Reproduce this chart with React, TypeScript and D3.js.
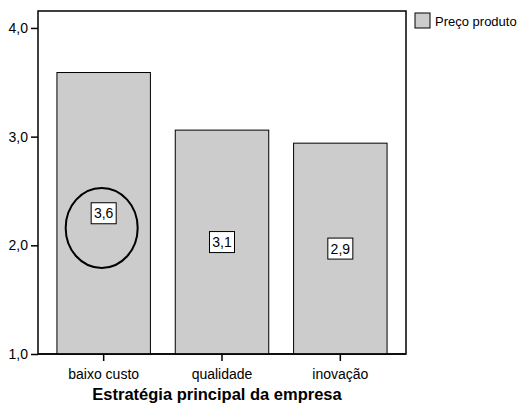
import { useEffect, useRef } from 'react';
import * as d3 from 'd3';

const categories = ['baixo custo', 'qualidade', 'inovação'];
const precoProduto = [3.59, 3.06, 2.94];
const valueLabels = ['3,6', '3,1', '2,9'];
const yTicks = [1, 2, 3, 4];
const seriesName = 'Preço produto';
const xTitle = 'Estratégia principal da empresa';

export default function App() {
	const svgRef = useRef<SVGSVGElement | null>(null);
	const width = 524;
	const height = 405;

	useEffect(() => {
		if (!svgRef.current) return;
		const margin = { top: 11, right: 118, bottom: 51, left: 38 };
		const svg = d3.select(svgRef.current);
		svg.selectAll('*').remove();

		const font = '"Liberation Sans", Arial, sans-serif';

		const x = d3
			.scaleBand<string>()
			.domain(categories)
			.range([margin.left, width - margin.right])
			.paddingInner(0.21)
			.paddingOuter(0.16);

		const y = d3
			.scaleLinear()
			.domain([1, 4.156])
			.range([height - margin.bottom, margin.top]);

		// Plot frame
		svg
			.append('rect')
			.attr('x', margin.left)
			.attr('y', margin.top)
			.attr('width', width - margin.right - margin.left)
			.attr('height', height - margin.bottom - margin.top)
			.attr('fill', 'white')
			.attr('stroke', 'black')
			.attr('stroke-width', 1.5);

		// Bars
		svg
			.append('g')
			.selectAll('rect')
			.data(precoProduto)
			.join('rect')
			.attr('x', (_, i) => x(categories[i])!)
			.attr('y', (d) => y(d))
			.attr('width', x.bandwidth())
			.attr('height', (d) => y(1) - y(d))
			.attr('fill', '#cccccc')
			.attr('stroke', 'black')
			.attr('stroke-width', 1);

		// Frame bottom line over bars
		svg
			.append('line')
			.attr('x1', margin.left)
			.attr('x2', width - margin.right)
			.attr('y1', y(1))
			.attr('y2', y(1))
			.attr('stroke', 'black')
			.attr('stroke-width', 1.5);

		// Value labels
		const labels = svg
			.append('g')
			.selectAll('g')
			.data(precoProduto)
			.join('g')
			.attr(
				'transform',
				(d, i) => `translate(${x(categories[i])! + x.bandwidth() / 2},${(y(d) + y(1)) / 2})`,
			);
		labels
			.append('rect')
			.attr('x', -12.5)
			.attr('y', -10.5)
			.attr('width', 25)
			.attr('height', 21)
			.attr('fill', 'white')
			.attr('stroke', 'black')
			.attr('stroke-width', 1);
		labels
			.append('text')
			.attr('text-anchor', 'middle')
			.attr('dy', '0.36em')
			.style('font-family', font)
			.style('font-size', '14px')
			.text((_, i) => valueLabels[i]);

		// Highlight ellipse around first label
		svg
			.append('ellipse')
			.attr('cx', x(categories[0])! + x.bandwidth() / 2 - 2)
			.attr('cy', y(2.16))
			.attr('rx', 36)
			.attr('ry', 40)
			.attr('fill', 'none')
			.attr('stroke', 'black')
			.attr('stroke-width', 2);

		// Y axis
		const yAxis = svg
			.append('g')
			.attr('transform', `translate(${margin.left},0)`)
			.call(
				d3
					.axisLeft(y)
					.tickValues(yTicks)
					.tickSize(7)
					.tickFormat((d) => d3.format('.1f')(d as number).replace('.', ',')),
			);
		yAxis.select('.domain').remove();
		yAxis.selectAll('line').attr('stroke-width', 1.5);
		yAxis
			.selectAll('text')
			.attr('x', -10)
			.style('font-family', font)
			.style('font-size', '14px')
			.attr('fill', 'black');

		// X axis
		const xAxis = svg
			.append('g')
			.attr('transform', `translate(0,${y(1)})`)
			.call(d3.axisBottom(x).tickSize(7).tickPadding(8));
		xAxis.select('.domain').remove();
		xAxis.selectAll('line').attr('stroke-width', 1.5);
		xAxis
			.selectAll('text')
			.style('font-family', font)
			.style('font-size', '14px')
			.attr('fill', 'black');

		// X title
		svg
			.append('text')
			.attr('x', (margin.left + width - margin.right) / 2 - 5)
			.attr('y', 400)
			.attr('text-anchor', 'middle')
			.style('font-family', font)
			.style('font-size', '16.5px')
			.style('font-weight', 'bold')
			.text(xTitle);

		// Legend
		const legend = svg.append('g').attr('transform', `translate(415,13)`);
		legend
			.append('rect')
			.attr('width', 15)
			.attr('height', 15)
			.attr('fill', '#cccccc')
			.attr('stroke', 'black')
			.attr('stroke-width', 1);
		legend
			.append('text')
			.attr('x', 20)
			.attr('y', 12.5)
			.style('font-family', font)
			.style('font-size', '13px')
			.text(seriesName);
	}, []);

	return (
		<svg
			ref={svgRef}
			width={width}
			height={height}
			style={{ position: 'absolute', left: 0, top: 0, background: 'white' }}
		/>
	);
}
